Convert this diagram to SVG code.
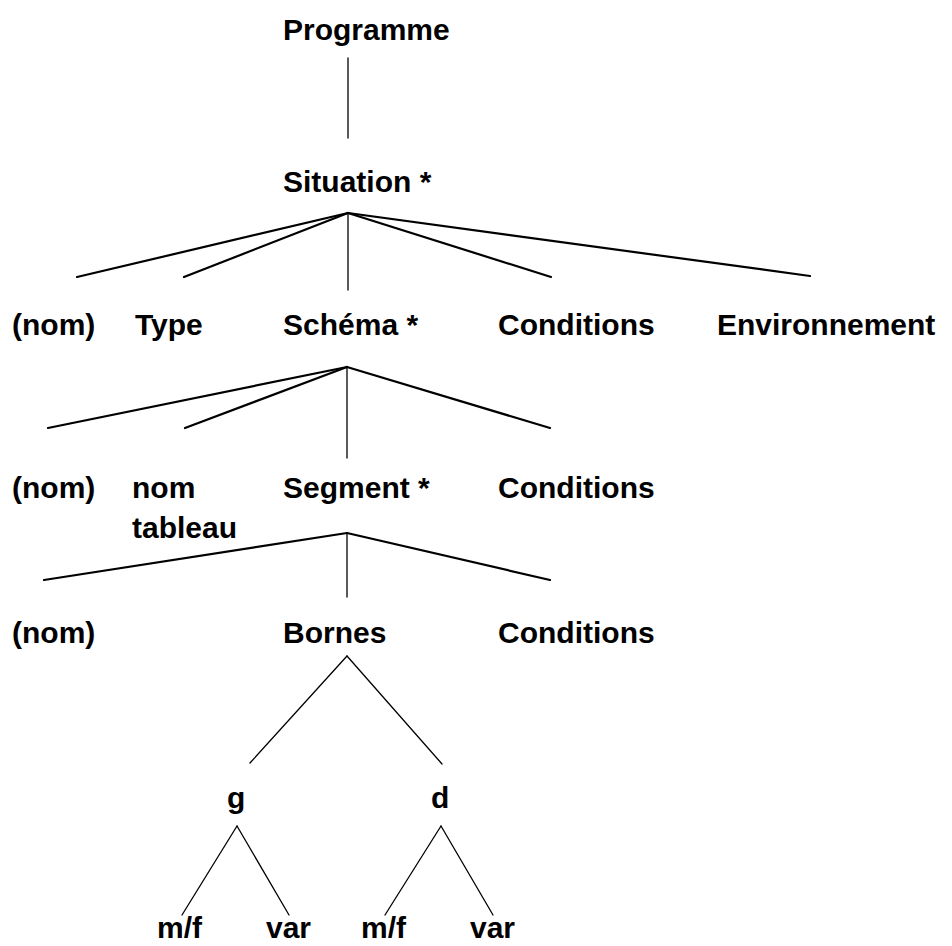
<svg xmlns="http://www.w3.org/2000/svg" width="952" height="946" viewBox="0 0 952 946">
<style>
text{font-family:"Liberation Sans",Arial,sans-serif;font-weight:bold;font-size:30px;fill:#000}
.c line{stroke:#000;stroke-linecap:round}
.thick{stroke-width:2.2}
.thin{stroke-width:1.3}
</style>
<rect width="952" height="946" fill="#fff"/>
<g class="c" id="connectors">
<line class="thin" x1="348" y1="58" x2="348" y2="138"/>
<line class="thick" x1="348" y1="213" x2="77" y2="277"/>
<line class="thick" x1="348" y1="213" x2="184" y2="277"/>
<line class="thin" x1="348" y1="213" x2="348" y2="290"/>
<line class="thick" x1="348" y1="213" x2="551" y2="277"/>
<line class="thick" x1="348" y1="213" x2="810" y2="276"/>
<line class="thick" x1="347" y1="367" x2="48" y2="428"/>
<line class="thick" x1="347" y1="367" x2="185" y2="428"/>
<line class="thin" x1="347" y1="367" x2="347" y2="458"/>
<line class="thick" x1="347" y1="367" x2="550" y2="428"/>
<line class="thick" x1="347" y1="533" x2="44" y2="580"/>
<line class="thin" x1="347" y1="533" x2="347" y2="597"/>
<line class="thick" x1="347" y1="533" x2="550" y2="580"/>
<line class="thin" x1="347" y1="656" x2="250" y2="763"/>
<line class="thin" x1="347" y1="656" x2="442" y2="764"/>
<line class="thin" x1="237" y1="826" x2="182" y2="915"/>
<line class="thin" x1="237" y1="826" x2="289" y2="915"/>
<line class="thin" x1="441" y1="826" x2="385" y2="915"/>
<line class="thin" x1="441" y1="826" x2="493" y2="915"/>
</g>
<g id="programme"><text x="283" y="40">Programme</text></g>
<g id="situation"><text x="283" y="192">Situation *</text></g>
<g id="nom1"><text x="12" y="335">(nom)</text></g>
<g id="type"><text x="135" y="335">Type</text></g>
<g id="schema"><text x="283" y="335">Schéma *</text></g>
<g id="conditions1"><text x="498" y="335">Conditions</text></g>
<g id="environnement"><text x="717" y="335">Environnement</text></g>
<g id="nom2"><text x="12" y="498">(nom)</text></g>
<g id="nomtableau"><text x="132" y="498">nom</text><text x="132" y="538">tableau</text></g>
<g id="segment"><text x="283" y="498">Segment *</text></g>
<g id="conditions2"><text x="498" y="498">Conditions</text></g>
<g id="nom3"><text x="12" y="643">(nom)</text></g>
<g id="bornes"><text x="283" y="643">Bornes</text></g>
<g id="conditions3"><text x="498" y="643">Conditions</text></g>
<g id="g"><text x="227" y="808">g</text></g>
<g id="d"><text x="431" y="808">d</text></g>
<g id="mf1"><text x="157" y="938">m/f</text></g>
<g id="var1"><text x="266" y="938">var</text></g>
<g id="mf2"><text x="361" y="938">m/f</text></g>
<g id="var2"><text x="470" y="938">var</text></g>
</svg>
